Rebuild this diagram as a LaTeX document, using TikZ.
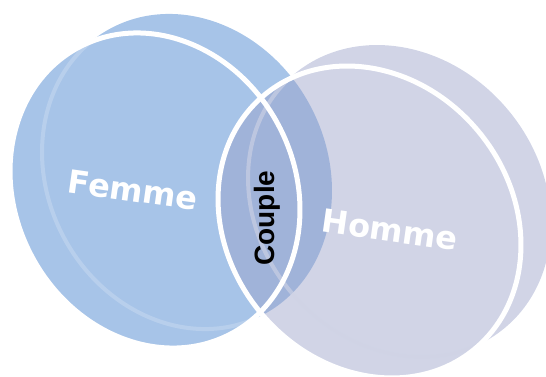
\documentclass[tikz,border=0pt]{standalone}
\usepackage{fontspec}
\newfontfamily\namefont{DejaVu Sans}
\newfontfamily\couplefont{Liberation Sans}
\definecolor{femmeblue}{RGB}{167,196,232}
\definecolor{hommegrey}{RGB}{152,160,200}
\definecolor{hommelight}{RGB}{208,212,229}
\begin{document}
\begin{tikzpicture}[x=1pt,y=1pt,
  femmeface/.style={x radius=139.7, y radius=162.2, rotate=28},
  hommeface/.style={x radius=141.7, y radius=164.9, rotate=39.4},
  rim/.style={white, line width=5},
  namelabel/.style={text=white, font=\namefont\bfseries\fontsize{32}{34}\selectfont, inner sep=0pt},
  couplelabel/.style={text=black, font=\couplefont\bfseries\fontsize{28}{30}\selectfont, inner sep=0pt}]
  \useasboundingbox (0,0) rectangle (546,376);
  \clip (0,0) rectangle (546,376);
  \fill[femmeblue] (155,185.5) circle[femmeface] (187,204.5) circle[femmeface];
  \begin{scope}
    \clip (155,185.5) circle[femmeface];
    \draw[white, opacity=.2, line width=4] (187,204.5) circle[femmeface];
  \end{scope}
  \fill[hommegrey, fill opacity=.45] (369.5,154) circle[hommeface] (399.5,175) circle[hommeface];
  \begin{scope}
    \clip (369.5,154) circle[hommeface];
    \draw[hommelight, opacity=.6, line width=4] (399.5,175) circle[hommeface];
  \end{scope}
  \draw[rim] (155,185.5) circle[femmeface];
  \draw[rim] (369.5,154) circle[hommeface];
  \node[namelabel, rotate=-8] (Femme) at (133,186) {Femme};
  \node[namelabel, rotate=-8] (Homme) at (390,146) {Homme};
  \node[couplelabel, rotate=90] (Couple) at (267,158) {Couple};
\end{tikzpicture}
\end{document}
